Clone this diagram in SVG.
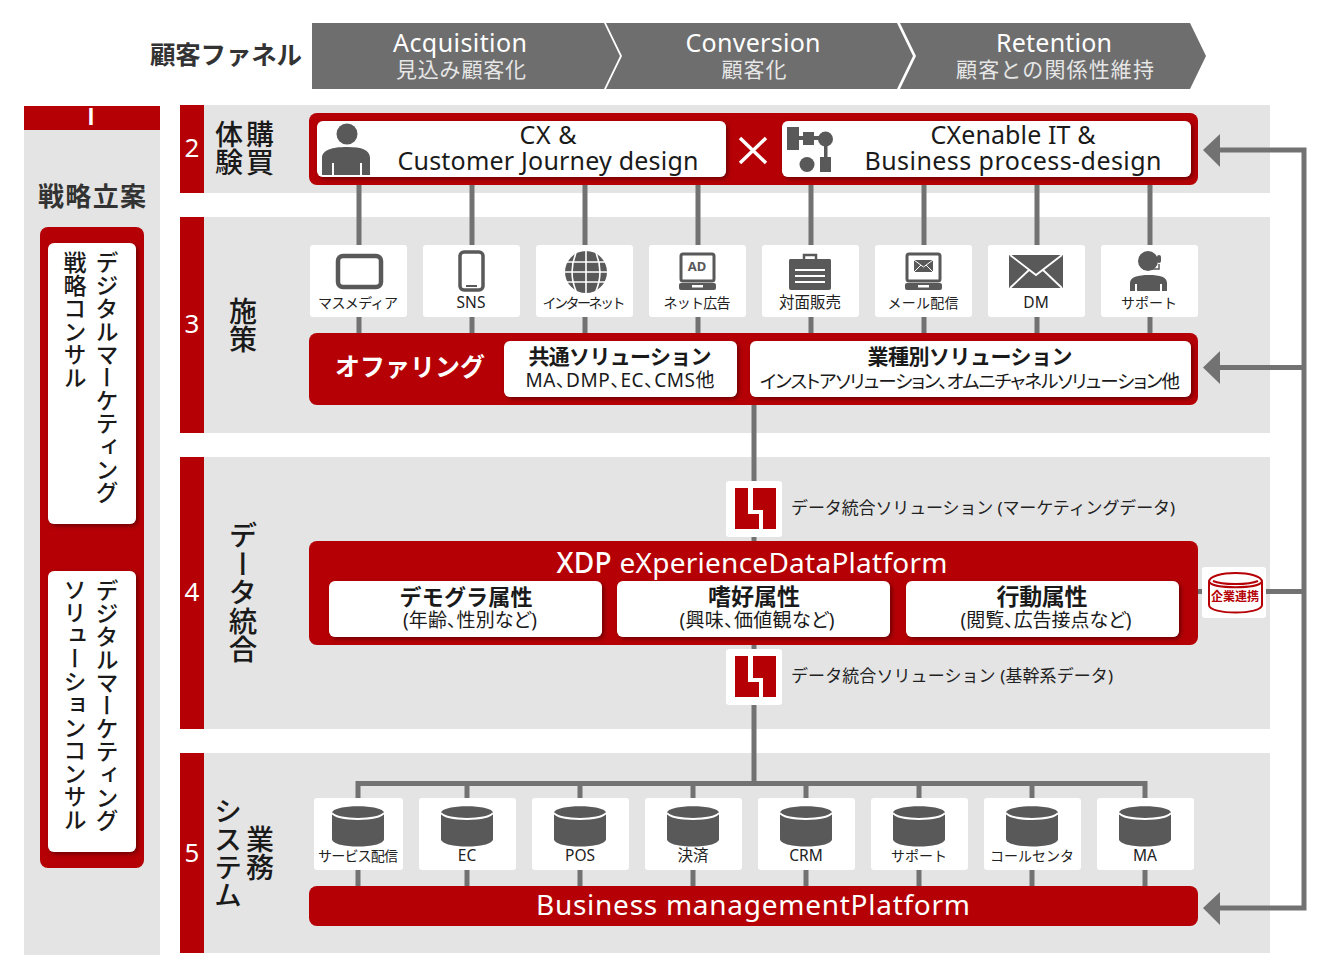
<svg xmlns="http://www.w3.org/2000/svg" width="1330" height="980" viewBox="0 0 1330 980">
<style>
text{font-family:"Noto Sans","Noto Sans CJK JP",sans-serif;fill:#1a1a1a;text-anchor:middle;dominant-baseline:central}
.w{fill:#fff}.g{fill:#e4e4e4}.r{fill:#b50005}.ic{fill:#595959}.card{fill:#fff}
.l{font-size:14px;fill:#222}.l2{font-size:15.500px;fill:#222}.p{font-feature-settings:"palt"}.b{font-weight:700}.v{font-family:"Noto Sans CJK JP",sans-serif;writing-mode:vertical-rl;text-anchor:start;dominant-baseline:auto;font-weight:500}
.n{font-size:26px;fill:#fff}.f1{font-size:25px;fill:#fff}.f2{font-size:21px;fill:#e6e6e6}
.c{stroke:#727272;stroke-width:5;fill:none}
.wl{stroke:#fff;fill:none}
</style>
<defs>
<filter id="s" x="-5%" y="-15%" width="110%" height="130%"><feDropShadow dx="2" dy="2" stdDeviation="2" flood-color="#500" flood-opacity=".75"/></filter>
<g id="db"><path class="ic" d="M-26 -32C-26 -41 26 -41 26 -32V-6C26 4 -26 4 -26 -6Z"/><path class="wl" stroke-width="2" d="M-26 -32C-20 -24 20 -24 26 -32"/></g>
<g id="logo"><rect class="r" x="9" y="7" width="41" height="41"/><path class="w" d="M22 7h5v22l10 0v19h-4V33H22Z"/></g>
<g id="laptop"><rect x="2" y="2" width="33" height="27" rx="2" fill="#fff" stroke="#595959" stroke-width="3"/><rect class="ic" y="31" width="37" height="7" rx="2"/><rect x="13" y="33" width="11" height="2.5" fill="#fff"/></g>
</defs>

<g id="sections">
<rect class="g" x="24" y="106" width="136" height="849"/>
<rect class="r" x="24" y="106" width="136" height="24"/>
<rect class="g" x="180" y="105" width="1090" height="88"/><rect class="r" x="180" y="105" width="24" height="88"/>
<rect class="g" x="180" y="217" width="1090" height="216"/><rect class="r" x="180" y="217" width="24" height="216"/>
<rect class="g" x="180" y="457" width="1090" height="272"/><rect class="r" x="180" y="457" width="24" height="272"/>
<rect class="g" x="180" y="753" width="1090" height="200"/><rect class="r" x="180" y="753" width="24" height="200"/>
<text class="n" x="91" y="117" style="font-size:23px;font-family:'Liberation Sans',sans-serif;font-weight:700">I</text>
<text class="n" x="192" y="147">2</text><text class="n" x="192" y="323">3</text><text class="n" x="192" y="591">4</text><text class="n" x="192" y="852">5</text>
<text class="v" x="229" y="120" style="font-size:28px">体験</text>
<text class="v" x="260" y="120" style="font-size:28px">購買</text>
<text class="v" x="243" y="297" style="font-size:28px">施策</text>
<text class="v" x="243" y="521" style="font-size:28.500px">データ統合</text>
<text class="v" x="228" y="797" style="font-size:28px">システム</text>
<text class="v" x="260" y="825" style="font-size:28px">業務</text>
</g>

<g id="funnel">
<text class="b" x="226" y="54" style="font-size:25.500px;fill:#333" textLength="152">顧客ファネル</text>
<polygon fill="#6e6e6e" points="312,23 604,23 620,56 604,89 312,89"/>
<polygon fill="#6e6e6e" points="606,23 897,23 913,56 897,89 606,89 622,56"/>
<polygon fill="#6e6e6e" points="900,23 1190,23 1206,56 1190,89 900,89 916,56"/>
<text class="f1" x="460" y="42" textLength="134">Acquisition</text><text class="f2" x="461" y="69" textLength="130">見込み顧客化</text>
<text class="f1" x="753" y="42" textLength="135">Conversion</text><text class="f2" x="754" y="69" textLength="65">顧客化</text>
<text class="f1" x="1054" y="42" textLength="116">Retention</text><text class="f2" x="1055" y="69" textLength="198">顧客との関係性維持</text>
</g>

<g id="connectors">
<path class="c" d="M359 180V333M472 180V333M585 180V333M698 180V333M811 180V333M924 180V333M1037 180V333M1150 180V333"/>
<path class="c" d="M754 405V541M754 645V783M358 798V783.500H1145V798M467 783V798M580 783V798M693 783V798M806 783V798M919 783V798M1032 783V798"/>
<path class="c" d="M358 870V886M467 870V886M580 870V886M693 870V886M806 870V886M919 870V886M1032 870V886M1145 870V886"/>
<path class="c" d="M1218 150H1304V908H1218M1218 367.500H1304M1198 591.500H1304"/>
<polygon fill="#727272" points="1203,150 1220,134 1220,167"/>
<polygon fill="#727272" points="1203,367.500 1220,351 1220,384"/>
<polygon fill="#727272" points="1203,908 1220,892 1220,925"/>
</g>

<g id="strategy">
<text class="b" x="92" y="196" style="font-size:26px;fill:#333" textLength="108">戦略立案</text>
<rect class="r" x="40" y="227" width="104" height="641" rx="8"/>
<rect class="w" x="48" y="243" width="88" height="281" rx="6" filter="url(#s)"/>
<rect class="w" x="48" y="571" width="88" height="281" rx="6" filter="url(#s)"/>
<text class="v" x="107" y="251" style="font-size:23px">デジタルマーケティング</text>
<text class="v" x="75" y="251" style="font-size:23px">戦略コンサル</text>
<text class="v" x="107" y="579" style="font-size:23px">デジタルマーケティング</text>
<text class="v" x="75" y="578" style="font-size:23px">ソリューションコンサル</text>
</g>

<g id="purchase">
<rect class="r" x="309" y="113" width="889" height="72" rx="8"/>
<rect class="w" x="317" y="121" width="409" height="56" rx="6" filter="url(#s)"/>
<rect class="w" x="782" y="121" width="409" height="56" rx="6" filter="url(#s)"/>
<path class="wl" stroke-width="3.500" d="M740 138L766 163M766 138L740 163"/>
<circle class="ic" cx="347" cy="134" r="10.500"/>
<path class="ic" d="M322 175V158C322 150 332 147 347 147S370 150 370 158V175H362V163H360V175H334V163H332V175Z"/>
<rect class="ic" x="787" y="127" width="12" height="23"/><rect class="ic" x="799" y="136" width="22" height="4"/><rect class="ic" x="803" y="132" width="11" height="13"/><circle class="ic" cx="825.500" cy="139" r="7.500"/><rect class="ic" x="824" y="140" width="3.500" height="20"/><rect class="ic" x="820" y="157" width="11" height="15"/>
<circle class="ic" cx="807" cy="164.500" r="7.500"/>
<text x="548" y="134" style="font-size:25px" textLength="57">CX &amp;</text>
<text x="548" y="160" style="font-size:25px" textLength="301">Customer Journey design</text>
<text x="1013" y="134" style="font-size:25px" textLength="165">CXenable IT &amp;</text>
<text x="1013" y="160" style="font-size:25px" textLength="297">Business process-design</text>
</g>

<g id="ch1"><rect class="card" x="310" y="245" width="97" height="72" rx="3"/><rect x="338" y="256" width="43" height="31" rx="5" fill="none" stroke="#595959" stroke-width="4.500"/><text class="l" x="358" y="302" textLength="80">マスメディア</text></g>
<g id="ch2"><rect class="card" x="423" y="245" width="97" height="72" rx="3"/><rect x="460" y="252" width="23" height="38" rx="4" fill="none" stroke="#595959" stroke-width="3.500"/><rect class="ic" x="466" y="285" width="11" height="2"/><text class="l2" x="471" y="302">SNS</text></g>
<g id="ch3"><rect class="card" x="536" y="245" width="97" height="72" rx="3"/><circle class="ic" cx="586" cy="272" r="21"/><path class="wl" stroke-width="1.600" d="M565 262H607M565 272H607M565 282H607M586 251V293M576 253C571 265 571 279 576 291M596 253C601 265 601 279 596 291"/><text class="l" x="584" y="302" textLength="83">インターネット</text></g>
<g id="ch4"><rect class="card" x="649" y="245" width="97" height="72" rx="3"/><use href="#laptop" x="679" y="252"/><text x="697" y="266" style="font-size:13px;font-weight:700;fill:#595959">AD</text><text class="l" x="697" y="302" textLength="67">ネット広告</text></g>
<g id="ch5"><rect class="card" x="762" y="245" width="97" height="72" rx="3"/><path class="ic" d="M790 259H830Q831 259 831 261V288Q831 290 829 290H791Q789 290 789 288V261Q789 259 790 259Z"/><path fill="none" stroke="#595959" stroke-width="2.500" d="M804 259V255H816V259"/><path class="wl" stroke-width="2" d="M795 270H825M795 276H825M795 282H825"/><text class="l2" x="810" y="302">対面販売</text></g>
<g id="ch6"><rect class="card" x="875" y="245" width="97" height="72" rx="3"/><use href="#laptop" x="905" y="252"/><rect class="ic" x="914" y="260" width="19" height="12"/><path class="wl" stroke-width="1" d="M914 260L923.500 267L933 260M914 272L921 265M933 272L926 265"/><text class="l" x="923" y="302" textLength="71">メール配信</text></g>
<g id="ch7"><rect class="card" x="988" y="245" width="97" height="72" rx="3"/><rect class="ic" x="1009" y="255" width="54" height="33"/><path class="wl" stroke-width="1.800" d="M1010 255L1036 275L1062 255M1010 288L1029 270M1062 288L1043 270"/><text class="l2" x="1036" y="302">DM</text></g>
<g id="ch8"><rect class="card" x="1101" y="245" width="97" height="72" rx="3"/><circle class="ic" cx="1148" cy="261" r="10"/><path class="ic" d="M1130 291V283C1130 277 1138 275 1149 275S1167 277 1167 283V291H1162V284H1160V291H1137V284H1135V291Z"/><path fill="none" stroke="#595959" stroke-width="1.500" d="M1159 264V269H1143"/><rect class="ic" x="1157" y="255" width="4" height="8" rx="2"/><text class="l" x="1149" y="302" textLength="56">サポート</text></g>

<g id="offering">
<rect class="r" x="309" y="333" width="889" height="72" rx="8"/>
<rect class="w" x="504" y="341" width="233" height="56" rx="6" filter="url(#s)"/>
<rect class="w" x="750" y="341" width="441" height="56" rx="6" filter="url(#s)"/>
<text class="b w" x="410" y="366" style="font-size:25px">オファリング</text>
<text class="b" x="620" y="356" style="font-size:21px" textLength="183">共通ソリューション</text>
<text class="p" x="620" y="380" style="font-size:19px" textLength="189">MA、DMP、EC、CMS他</text>
<text class="b" x="970" y="356" style="font-size:21px" textLength="205">業種別ソリューション</text>
<text class="p" x="970" y="380" style="font-size:18.500px" textLength="420">インストアソリューション、オムニチャネルソリューション他</text>
</g>

<g id="dataSolution1"><rect class="card" x="726" y="481" width="56" height="56" rx="3"/><use href="#logo" x="726" y="481"/><text x="791" y="507" style="font-size:17px;text-anchor:start;fill:#222" textLength="384">データ統合ソリューション (マーケティングデータ)</text></g>

<g id="xdp">
<rect class="r" x="309" y="541" width="889" height="104" rx="8"/>
<text class="w" x="752" y="562" style="font-size:28px" textLength="391"><tspan font-weight="500">XDP</tspan> eXperienceDataPlatform</text>
<rect class="w" x="329" y="581" width="273" height="56" rx="6" filter="url(#s)"/>
<rect class="w" x="617" y="581" width="273" height="56" rx="6" filter="url(#s)"/>
<rect class="w" x="906" y="581" width="273" height="56" rx="6" filter="url(#s)"/>
<text class="b" x="466" y="596" style="font-size:22px" textLength="133">デモグラ属性</text><text class="p" x="470" y="620" style="font-size:19px" textLength="134">(年齢、性別など)</text>
<text class="b" x="754" y="596" style="font-size:23px" textLength="92">嗜好属性</text><text class="p" x="757" y="620" style="font-size:19px" textLength="155">(興味、価値観など)</text>
<text class="b" x="1042" y="596" style="font-size:23px" textLength="91">行動属性</text><text class="p" x="1046" y="620" style="font-size:19px" textLength="171">(閲覧、広告接点など)</text>
</g>

<g id="partner"><rect class="card" x="1202" y="567" width="64" height="51" rx="3"/><path fill="#fff" stroke="#b50005" stroke-width="2" d="M1209 582C1209 570 1262 570 1262 582V605C1262 615 1209 615 1209 605Z"/><path fill="none" stroke="#b50005" stroke-width="2" d="M1209 582C1215 589 1256 589 1262 582M1213 581C1222 585 1249 585 1258 581"/><text class="b" x="1235" y="596" style="font-size:12px;fill:#b50005">企業連携</text></g>

<g id="dataSolution2"><rect class="card" x="726" y="649" width="56" height="56" rx="3"/><use href="#logo" x="726" y="649"/><text x="791" y="675" style="font-size:17px;text-anchor:start;fill:#222" textLength="322">データ統合ソリューション (基幹系データ)</text></g>

<g id="sys1"><rect class="card" x="314" y="798" width="89" height="72" rx="3"/><use href="#db" x="358" y="845"/><text class="l" x="358" y="855" textLength="80">サービス配信</text></g>
<g id="sys2"><rect class="card" x="419" y="798" width="97" height="72" rx="3"/><use href="#db" x="467" y="845"/><text class="l2" x="467" y="855">EC</text></g>
<g id="sys3"><rect class="card" x="532" y="798" width="97" height="72" rx="3"/><use href="#db" x="580" y="845"/><text class="l2" x="580" y="855">POS</text></g>
<g id="sys4"><rect class="card" x="645" y="798" width="97" height="72" rx="3"/><use href="#db" x="693" y="845"/><text class="l2" x="693" y="855">決済</text></g>
<g id="sys5"><rect class="card" x="758" y="798" width="97" height="72" rx="3"/><use href="#db" x="806" y="845"/><text class="l2" x="806" y="855">CRM</text></g>
<g id="sys6"><rect class="card" x="871" y="798" width="97" height="72" rx="3"/><use href="#db" x="919" y="845"/><text class="l" x="919" y="855" textLength="56">サポート</text></g>
<g id="sys7"><rect class="card" x="984" y="798" width="97" height="72" rx="3"/><use href="#db" x="1032" y="845"/><text class="l" x="1032" y="855" textLength="84">コールセンタ</text></g>
<g id="sys8"><rect class="card" x="1097" y="798" width="97" height="72" rx="3"/><use href="#db" x="1145" y="845"/><text class="l2" x="1145" y="855">MA</text></g>

<g id="bmp"><rect class="r" x="309" y="886" width="889" height="40" rx="8"/><text class="w" x="753" y="904" style="font-size:28px" textLength="434">Business managementPlatform</text></g>
</svg>
